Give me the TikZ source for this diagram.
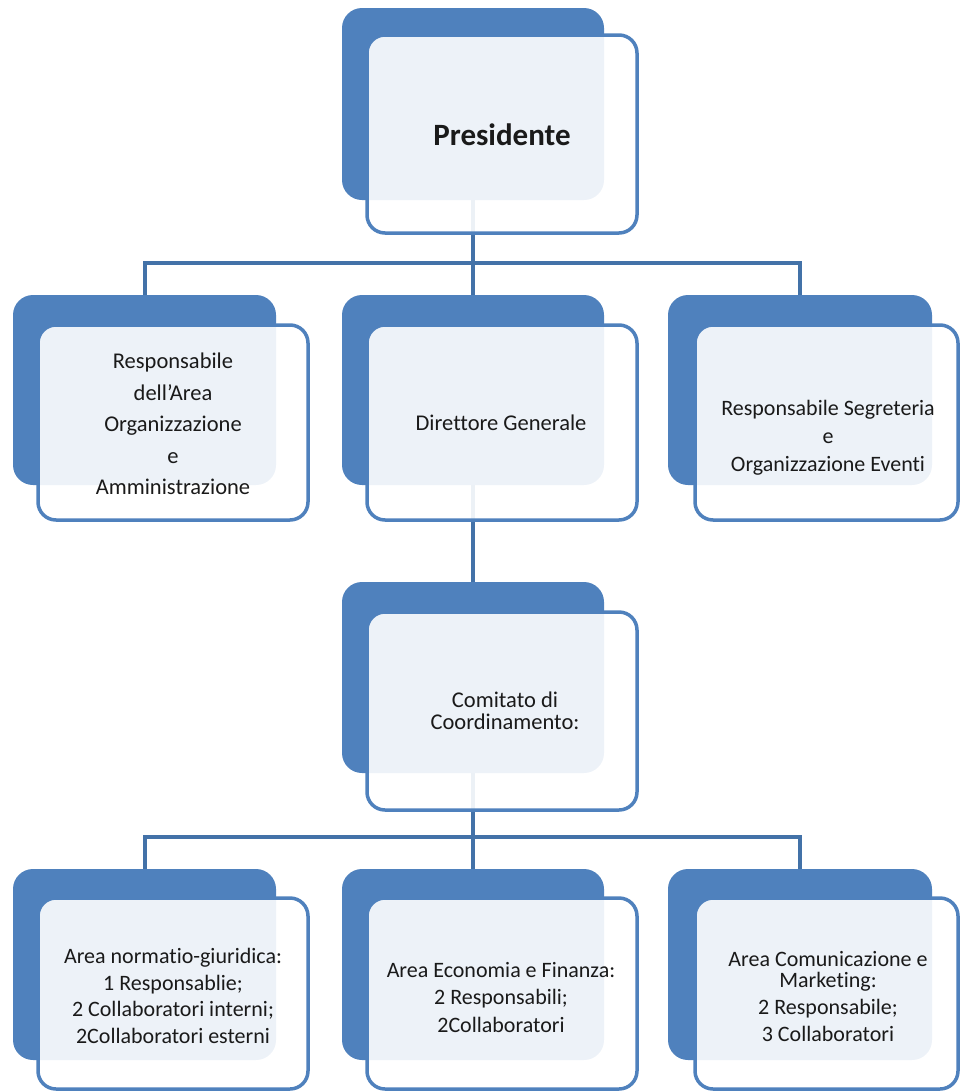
\documentclass[tikz,border=0pt]{standalone}
\usepackage{fontspec}
\setmainfont{Carlito}[Ligatures={NoCommon}]
\definecolor{backblue}{HTML}{4F81BD}
\definecolor{lineblue}{HTML}{4372A8}
\definecolor{txt}{HTML}{1A1A1A}
\tikzset{
  backbox/.style={draw=none, fill=backblue, rounded corners=20pt, inner sep=0pt},
  frontbox/.style={draw=backblue, line width=3.5pt, fill=white, fill opacity=0.9, rounded corners=18pt, inner sep=0pt},
  conn/.style={draw=lineblue, line width=4pt},
  lbl/.style={text=txt, align=center, inner sep=0pt, font=\fontsize{22}{22}\selectfont},
}
\begin{document}
\begin{tikzpicture}[x=1pt, y=-1pt]
\useasboundingbox (0,0) rectangle (960,1092);
% back boxes
\node[backbox, minimum width=262pt, minimum height=192pt] (pb) at (473,104) {};
\node[backbox, minimum width=263pt, minimum height=190pt] (lb) at (144.5,390) {};
\node[backbox, minimum width=262pt, minimum height=190pt] (mb) at (473,390) {};
\node[backbox, minimum width=264pt, minimum height=190pt] (rb) at (800,390) {};
\node[backbox, minimum width=262pt, minimum height=191pt] (cb) at (473,677.5) {};
\node[backbox, minimum width=263pt, minimum height=191pt] (alb) at (144.5,964.5) {};
\node[backbox, minimum width=262pt, minimum height=191pt] (amb) at (473,964.5) {};
\node[backbox, minimum width=264pt, minimum height=191pt] (arb) at (800,964.5) {};
% connectors
\coordinate (j1) at (473,262.5);
\coordinate (j2) at (473,836.5);
\draw[conn] (pb.south) -- (j1);
\draw[conn] (j1) -- (mb.north);
\draw[conn] (j1) -| (lb.north);
\draw[conn] (j1) -| (rb.north);
\draw[conn] (mb.south) -- (cb.north);
\draw[conn] (cb.south) -- (j2);
\draw[conn] (j2) -- (amb.north);
\draw[conn] (j2) -| (alb.north);
\draw[conn] (j2) -| (arb.north);
% front boxes
\node[frontbox, minimum width=270pt, minimum height=198pt] (pf) at (502,134) {};
\node[frontbox, minimum width=270pt, minimum height=195pt] (lf) at (173,422.5) {};
\node[frontbox, minimum width=270pt, minimum height=195pt] (mf) at (502,422.5) {};
\node[frontbox, minimum width=263pt, minimum height=195pt] (rf) at (826.5,422.5) {};
\node[frontbox, minimum width=270pt, minimum height=198pt] (cf) at (502,711) {};
\node[frontbox, minimum width=270pt, minimum height=191pt] (alf) at (173,993.5) {};
\node[frontbox, minimum width=270pt, minimum height=191pt] (amf) at (502,993.5) {};
\node[frontbox, minimum width=263pt, minimum height=191pt] (arf) at (826.5,993.5) {};
% labels
\node[lbl, font=\fontsize{31}{31}\selectfont\bfseries] (pt) at (502,135) {Presidente};
\node[lbl, font=\fontsize{22.5}{31.5}\selectfont] (lt) at (173,424) {Responsabile\\dell'Area\\Organizzazione\\e\\Amministrazione};
\node[lbl, font=\fontsize{22.5}{22.5}\selectfont] (mt) at (501,423) {Direttore Generale};
\node[lbl, font=\fontsize{22}{28}\selectfont] (rt) at (828,438) {Responsabile Segreteria\\e\\Organizzazione Eventi};
\node[lbl, font=\fontsize{22.5}{22}\selectfont] (ct) at (505,711) {Comitato di\\Coordinamento:};
\node[lbl, font=\fontsize{22}{26.5}\selectfont] (alt) at (173,996) {Area normatio-giuridica:\\1 Responsablie;\\2 Collaboratori interni;\\2Collaboratori esterni};
\node[lbl, font=\fontsize{22}{27.5}\selectfont] (amt) at (501,997) {Area Economia e Finanza:\\2 Responsabili;\\2Collaboratori};
\node[lbl, font=\fontsize{22}{21}\selectfont] (art) at (828,996) {Area Comunicazione e\\Marketing:\\[6pt]2 Responsabile;\\[6pt]3 Collaboratori};
\end{tikzpicture}
\end{document}
